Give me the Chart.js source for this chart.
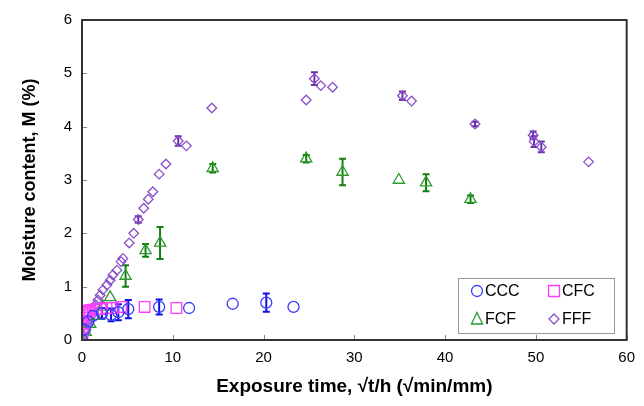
<!DOCTYPE html>
<html>
<head>
<meta charset="utf-8">
<script src="https://cdn.jsdelivr.net/npm/chart.js@4/dist/chart.umd.min.js"></script>
<style>
  html, body { margin: 0; padding: 0; background: #fff; }
  #wrap { width: 644px; height: 406px; position: relative; }
</style>
</head>
<body>
<div id="wrap"><canvas id="myChart" width="644" height="406"></canvas></div>
<script>
// data
var cccX = [0, 0.3, 0.7, 1.2, 2.2, 3.2, 4.0, 5.1, 8.5, 11.8, 16.6, 20.3, 23.3];
var cccY = [0, 0.2, 0.35, 0.45, 0.5, 0.47, 0.52, 0.58, 0.62, 0.6, 0.68, 0.7, 0.62];
var cccErr = [0, 0, 0, 0, 0.1, 0.12, 0.15, 0.17, 0.14, 0, 0, 0.17, 0];

var cfcX = [0, 0.02, 0.05, 0.08, 0.1, 0.15, 0.2, 0.3, 0.4, 0.5, 0.7, 0.9, 1.2, 1.6, 2.1, 2.7, 3.4, 4.3, 6.9, 10.4];
var cfcY = [0, 0.12, 0.22, 0.3, 0.36, 0.42, 0.46, 0.5, 0.52, 0.54, 0.55, 0.56, 0.57, 0.58, 0.58, 0.6, 0.6, 0.62, 0.62, 0.6];

var fcfX = [0, 0.4, 0.9, 1.5, 2.3, 3.1, 4.8, 7.0, 8.6, 14.4, 24.7, 28.7, 34.9, 37.9, 42.8];
var fcfY = [0, 0.15, 0.3, 0.45, 0.62, 0.8, 1.2, 1.68, 1.82, 3.22, 3.4, 3.15, 3.0, 2.95, 2.64];
var fcfErr = [0, 0, 0, 0, 0, 0, 0.2, 0.12, 0.3, 0.08, 0.07, 0.25, 0, 0.16, 0.07];

var fffX = [0, 0.1, 0.22, 0.44, 0.66, 0.9, 1.1, 1.3, 1.5, 1.76, 2.0, 2.3, 2.75, 3.1, 3.4, 3.85, 4.3, 4.5, 5.2, 5.7,
            6.2, 6.8, 7.3, 7.8, 8.5, 9.25, 10.6, 11.5, 14.3, 24.7, 25.6, 26.3, 27.6, 35.3, 36.3, 43.3, 49.7, 49.8, 50.6, 55.8];
var fffY = [0, 0.04, 0.09, 0.19, 0.28, 0.38, 0.47, 0.56, 0.66, 0.75, 0.84, 0.94, 1.03, 1.12, 1.22, 1.31, 1.47, 1.53, 1.82, 2.0,
            2.26, 2.47, 2.64, 2.78, 3.11, 3.3, 3.73, 3.64, 4.35, 4.5, 4.9, 4.77, 4.74, 4.58, 4.48, 4.05, 3.84, 3.72, 3.62, 3.34];
var fffErr = [0, 0, 0, 0, 0, 0, 0, 0, 0, 0, 0, 0, 0, 0, 0, 0, 0, 0, 0, 0,
              0.06, 0, 0, 0, 0, 0, 0.09, 0, 0, 0, 0.12, 0, 0, 0.08, 0, 0.04, 0.07, 0.1, 0.1, 0];

var seriesNames = ['CCC', 'CFC', 'FCF', 'FFF'];
var xTicks = [0, 10, 20, 30, 40, 50, 60];
var yTicks = [0, 1, 2, 3, 4, 5, 6];

var FONT = '"Liberation Sans", Arial, sans-serif';

function pts(xs, ys) {
  var out = [];
  for (var i = 0; i < xs.length; i++) out.push({x: xs[i], y: ys[i]});
  return out;
}

function ds(name, xs, ys, errs, style, radius, color, barColor) {
  return {
    label: name,
    data: pts(xs, ys),
    errs: errs,
    barColor: barColor,
    pointStyle: style,
    pointRadius: radius,
    pointHoverRadius: radius,
    pointBorderWidth: 1.3,
    borderColor: color,
    backgroundColor: 'rgba(0,0,0,0)',
    showLine: false
  };
}

// error bars, drawn under the markers
var errorBars = {
  id: 'errorBars',
  beforeDatasetsDraw: function(chart) {
    var c = chart.ctx, xs = chart.scales.x, ys = chart.scales.y;
    c.save();
    chart.data.datasets.forEach(function(d) {
      if (!d.errs) return;
      c.strokeStyle = d.barColor;
      c.lineWidth = 2;
      d.data.forEach(function(p, i) {
        var e = d.errs[i];
        if (!e) return;
        var px = xs.getPixelForValue(p.x);
        var y1 = ys.getPixelForValue(p.y + e), y2 = ys.getPixelForValue(p.y - e);
        c.beginPath();
        c.moveTo(px, y1); c.lineTo(px, y2);
        c.moveTo(px - 3.5, y1); c.lineTo(px + 3.5, y1);
        c.moveTo(px - 3.5, y2); c.lineTo(px + 3.5, y2);
        c.stroke();
      });
    });
    c.restore();
  }
};

// frame, inward ticks and the legend box
var frame = {
  id: 'frame',
  afterDraw: function(chart) {
    var c = chart.ctx, a = chart.chartArea;
    c.save();
    c.strokeStyle = '#888';
    c.lineWidth = 1;
    c.beginPath();
    xTicks.forEach(function(v) {
      var px = Math.round(chart.scales.x.getPixelForValue(v)) + 0.5;
      c.moveTo(px, a.bottom); c.lineTo(px, a.bottom - 5);
    });
    yTicks.forEach(function(v) {
      var py = Math.round(chart.scales.y.getPixelForValue(v)) + 0.5;
      c.moveTo(a.left, py); c.lineTo(a.left + 5, py);
    });
    c.stroke();

    c.strokeStyle = '#333';
    c.lineWidth = 2;
    c.strokeRect(a.left, a.top, a.right - a.left, a.bottom - a.top);

    // legend
    var bx = 458, by = 278, bw = 156, bh = 55;
    c.fillStyle = '#fff';
    c.fillRect(bx, by, bw, bh);
    c.strokeStyle = '#999';
    c.lineWidth = 1;
    c.strokeRect(bx + 0.5, by + 0.5, bw, bh);
    c.font = '16px ' + FONT;
    c.textBaseline = 'middle';
    c.fillStyle = '#000';
    var spots = [[477, 291], [554, 291], [477, 319], [554, 319]];
    chart.data.datasets.forEach(function(d, i) {
      var s = spots[i], mx = s[0], my = s[1];
      c.strokeStyle = d.borderColor;
      c.lineWidth = 1.3;
      c.beginPath();
      if (d.pointStyle === 'circle') c.arc(mx, my, 5.5, 0, Math.PI * 2);
      else if (d.pointStyle === 'rect') c.rect(mx - 5.5, my - 5.5, 11, 11);
      else if (d.pointStyle === 'triangle') { c.moveTo(mx, my - 6.5); c.lineTo(mx + 5.6, my + 5); c.lineTo(mx - 5.6, my + 5); c.closePath(); }
      else { c.moveTo(mx, my - 5); c.lineTo(mx + 5, my); c.lineTo(mx, my + 5); c.lineTo(mx - 5, my); c.closePath(); }
      c.stroke();
      c.fillText(seriesNames[i], mx + 8, my + 1);
    });
    c.restore();
  }
};

var ctx = document.getElementById('myChart').getContext('2d');
var myChart = new Chart(ctx, {
  type: 'scatter',
  data: {
    datasets: [
      ds(seriesNames[0], cccX, cccY, cccErr, 'circle', 5.5, '#3b3bff', '#1010e0'),
      ds(seriesNames[1], cfcX, cfcY, null, 'rect', 7.5, '#ff3cff', null),
      ds(seriesNames[2], fcfX, fcfY, fcfErr, 'triangle', 6.5, '#2e9a2e', '#118011'),
      ds(seriesNames[3], fffX, fffY, fffErr, 'rectRot', 4.8, '#8a4fc8', '#6a2fa8')
    ]
  },
  options: {
    responsive: false,
    animation: false,
    events: [],
    layout: { padding: { top: 20, right: 17, left: 0, bottom: 0 } },
    plugins: {
      legend: { display: false },
      tooltip: { enabled: false }
    },
    scales: {
      x: {
        type: 'linear',
        min: 0, max: 60,
        afterBuildTicks: function(s) { s.ticks = xTicks.map(function(v) { return {value: v}; }); },
        afterFit: function(s) { s.height = 66; },
        grid: { display: false, drawTicks: false },
        border: { display: false },
        ticks: { color: '#000', padding: 9, font: { family: FONT, size: 15 }, maxRotation: 0 },
        title: {
          display: true,
          text: 'Exposure time, \u221At/h (\u221Amin/mm)',
          color: '#000',
          font: { family: FONT, size: 19, weight: 'bold' },
          padding: { top: 4, bottom: 8 }
        }
      },
      y: {
        type: 'linear',
        min: 0, max: 6,
        afterBuildTicks: function(s) { s.ticks = yTicks.map(function(v) { return {value: v}; }); },
        afterFit: function(s) { s.width = 82; },
        grid: { display: false, drawTicks: false },
        border: { display: false },
        ticks: { color: '#000', padding: 10, font: { family: FONT, size: 15 } },
        title: {
          display: true,
          text: 'Moisture content, M (%)',
          color: '#000',
          font: { family: FONT, size: 18, weight: 'bold' },
          padding: { top: 19, bottom: 19 }
        }
      }
    }
  },
  plugins: [errorBars, frame]
});
</script>
</body>
</html>
